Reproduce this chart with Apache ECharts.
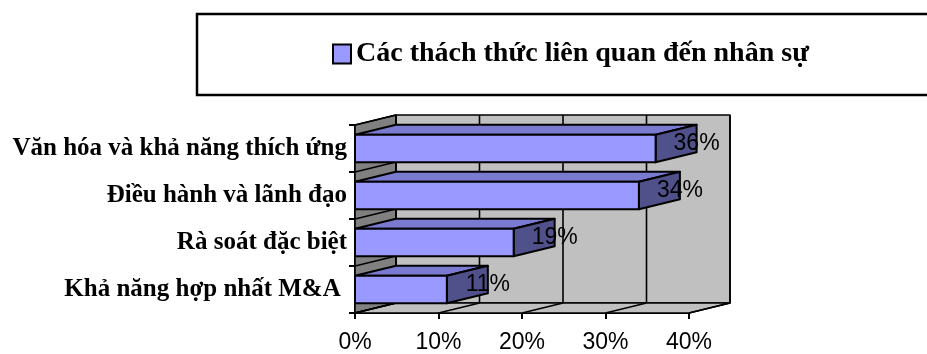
<!DOCTYPE html>
<html>
<head>
<meta charset="utf-8">
<script src="https://cdn.jsdelivr.net/npm/echarts@6/dist/echarts.min.js"></script>
<style>
  html, body { margin: 0; padding: 0; background: #fff; }
  #chart { width: 927px; height: 354px; }
</style>
</head>
<body>
<div id="chart"></div>
<script>
// Chart data
const seriesName = 'Các thách thức liên quan đến nhân sự';
const categories = [
  'Văn hóa và khả năng thích ứng',
  'Điều hành và lãnh đạo',
  'Rà soát đặc biệt',
  'Khả năng hợp nhất M&A '
];
const values = [36, 34, 19, 11];
const xTicks = [0, 10, 20, 30, 40];

// 3D depth offset of the plot (pixels)
const DX = 41;
const DY = -10;
const BAR_RATIO = 0.586;
const LINE_W = 1.6;

const chart = echarts.init(document.getElementById('chart'), null, { renderer: 'canvas' });

function renderWalls(params, api) {
  const cs = params.coordSys;
  const x0 = cs.x, y0 = cs.y, w = cs.width, h = cs.height;
  const band = api.size([0, 1])[1];
  const line = { stroke: '#000', lineWidth: LINE_W, lineJoin: 'round' };
  const children = [];
  // back wall
  children.push({
    type: 'rect',
    shape: { x: x0 + DX, y: y0 + DY, width: w, height: h },
    style: Object.assign({ fill: '#c0c0c0' }, line)
  });
  // left side wall
  children.push({
    type: 'polygon',
    shape: { points: [[x0, y0], [x0 + DX, y0 + DY], [x0 + DX, y0 + h + DY], [x0, y0 + h]] },
    style: Object.assign({ fill: '#808080' }, line)
  });
  // floor
  children.push({
    type: 'polygon',
    shape: { points: [[x0, y0 + h], [x0 + w, y0 + h], [x0 + w + DX, y0 + h + DY], [x0 + DX, y0 + h + DY]] },
    style: Object.assign({ fill: '#c0c0c0' }, line)
  });
  // value gridlines on back wall and floor
  xTicks.forEach(function (t) {
    const px = api.coord([t, 0])[0];
    children.push({
      type: 'line',
      shape: { x1: px + DX, y1: y0 + DY, x2: px + DX, y2: y0 + h + DY },
      style: line
    });
    children.push({
      type: 'line',
      shape: { x1: px, y1: y0 + h, x2: px + DX, y2: y0 + h + DY },
      style: line
    });
  });
  // category boundaries on side wall
  for (let i = 0; i <= categories.length; i++) {
    const py = y0 + i * band;
    children.push({
      type: 'line',
      shape: { x1: x0, y1: py, x2: x0 + DX, y2: py + DY },
      style: line
    });
  }
  return { type: 'group', children: children };
}

function renderBar(params, api) {
  const v = api.value(0);
  const c = api.value(1);
  const start = api.coord([0, c]);
  const end = api.coord([v, c]);
  const bh = api.size([0, 1])[1] * BAR_RATIO;
  const x0 = start[0], x1 = end[0];
  const y0 = start[1] - bh / 2, y1 = y0 + bh;
  const stroke = { stroke: '#000', lineWidth: 2, lineJoin: 'round' };
  return {
    type: 'group',
    children: [
      {
        type: 'polygon',
        shape: { points: [[x0, y0], [x1, y0], [x1 + DX, y0 + DY], [x0 + DX, y0 + DY]] },
        style: Object.assign({ fill: '#7a7ad0' }, stroke)
      },
      {
        type: 'polygon',
        shape: { points: [[x1, y0], [x1 + DX, y0 + DY], [x1 + DX, y1 + DY], [x1, y1]] },
        style: Object.assign({ fill: '#50508a' }, stroke)
      },
      {
        type: 'rect',
        shape: { x: x0, y: y0, width: x1 - x0, height: bh },
        style: Object.assign({ fill: '#9999ff' }, stroke)
      },
      {
        type: 'text',
        style: {
          text: v + '%',
          x: x1 + DX,
          y: (y0 + y1) / 2 + DY / 2,
          align: 'center',
          verticalAlign: 'middle',
          fill: '#000',
          fontSize: 23,
          fontFamily: '"Liberation Sans", Arial, sans-serif'
        }
      }
    ]
  };
}

const option = {
  animation: false,
  backgroundColor: '#fff',
  // legend frame, running off the right edge
  graphic: [{
    type: 'rect',
    z: 0,
    shape: { x: 197, y: 14, width: 760, height: 81 },
    style: { fill: '#fff', stroke: '#000', lineWidth: 2.5 }
  }],
  legend: {
    data: [{
      name: seriesName,
      icon: 'rect',
      itemStyle: { color: '#9999ff', borderColor: '#000', borderWidth: 2 }
    }],
    left: 332,
    top: 40,
    padding: 0,
    z: 10,
    itemWidth: 18,
    itemHeight: 19,
    selectedMode: false,
    textStyle: {
      fontFamily: '"Liberation Serif", "Times New Roman", serif',
      fontWeight: 'bold',
      fontSize: 28,
      color: '#000'
    }
  },
  grid: { left: 355, right: 238, top: 125, bottom: 40 },
  xAxis: {
    type: 'value',
    min: 0,
    max: 40,
    interval: 10,
    axisLine: { show: true, lineStyle: { color: '#000', width: 2 } },
    axisTick: { show: true, length: 6, lineStyle: { color: '#000', width: 2 } },
    splitLine: { show: false },
    axisLabel: {
      formatter: '{value}%',
      margin: 18,
      color: '#000',
      fontSize: 23,
      fontFamily: '"Liberation Sans", Arial, sans-serif'
    }
  },
  yAxis: {
    type: 'category',
    data: categories,
    inverse: true,
    axisLine: { show: true, lineStyle: { color: '#000', width: 2 } },
    axisTick: { show: true, length: 6, lineStyle: { color: '#000', width: 2 } },
    splitLine: { show: false },
    axisLabel: {
      margin: 8,
      color: '#000',
      fontSize: 25,
      fontWeight: 'bold',
      fontFamily: '"Liberation Serif", "Times New Roman", serif'
    }
  },
  series: [
    {
      name: 'walls',
      type: 'custom',
      z: 1,
      silent: true,
      renderItem: renderWalls,
      encode: { x: 0, y: 1 },
      data: [[0, 0]]
    },
    {
      name: seriesName,
      type: 'custom',
      z: 3,
      itemStyle: { color: '#9999ff' },
      renderItem: renderBar,
      encode: { x: 0, y: 1 },
      data: values.map(function (v, i) { return [v, i]; })
    }
  ]
};

chart.setOption(option);
</script>
</body>
</html>
